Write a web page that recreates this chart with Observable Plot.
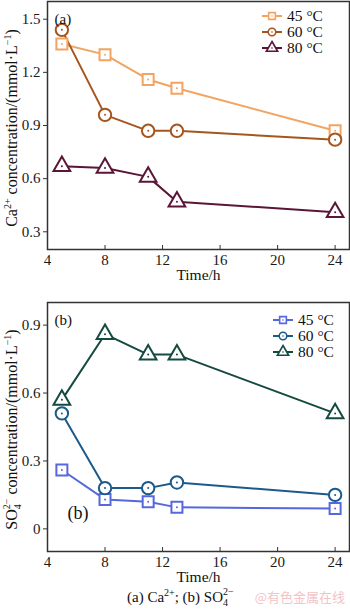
<!DOCTYPE html>
<html>
<head>
<meta charset="utf-8">
<script src="https://cdn.jsdelivr.net/npm/d3@7"></script>
<script src="https://cdn.jsdelivr.net/npm/@observablehq/plot@0.6"></script>
<style>
  html, body { margin: 0; padding: 0; background: #fff; }
  #wrap { position: relative; width: 350px; height: 609px; background: #fff; overflow: hidden; }
  #wrap > * { position: absolute; left: 0; }
  #wrap svg text { font-family: 'Liberation Serif', 'Times New Roman', serif; }
  #wrap svg text.cjk { font-family: 'Noto Sans CJK SC', sans-serif; }
</style>
</head>
<body>
<div id="wrap"></div>
<script>
// ---------- data ----------
const times = [5, 8, 11, 13, 24];
const seriesNames = ["45 °C", "60 °C", "80 °C"];
const ca45 = [1.36, 1.30, 1.16, 1.11, 0.87];
const ca60 = [1.44, 0.96, 0.87, 0.87, 0.82];
const ca80 = [0.67, 0.66, 0.61, 0.47, 0.41];
const so45 = [0.26, 0.13, 0.12, 0.095, 0.09];
const so60 = [0.51, 0.18, 0.18, 0.205, 0.15];
const so80 = [0.57, 0.86, 0.77, 0.77, 0.51];
const xTicks = [4, 8, 12, 16, 20, 24];
const caTicks = [0.3, 0.6, 0.9, 1.2, 1.5];
const soTicks = [0, 0.3, 0.6, 0.9];
const caColors = ["#F2A462", "#A5561E", "#5B1537"];
const soColors = ["#5668DD", "#1B5A8A", "#154A40"];
const symbols = ["square", "circle", "triangle"];

function rows(arrs) {
  return arrs.flatMap((a, i) => a.map((v, j) => ({series: seriesNames[i], t: times[j], v})));
}

const wrap = document.getElementById("wrap");

function panel({data, yDomain, yTicks, colors, top, height, marginTop, marginBottom, tag, tag2, legendX, legendY0, ylabel}) {
  const innerH = height - marginTop - marginBottom;
  const chart = Plot.plot({
    width: 350, height, marginLeft: 47, marginRight: 1, marginTop, marginBottom,
    style: "font-family: 'Liberation Serif', serif; font-size: 14px; color: #1a1a1a; background: transparent; overflow: visible;",
    x: {domain: [4, 25]},
    y: {domain: yDomain},
    color: {domain: seriesNames, range: colors},
    symbol: {domain: seriesNames, range: symbols},
    marks: [
      Plot.axisX(xTicks, {tickSize: 0, tickPadding: 5, label: null, fontSize: 15}),
      Plot.axisY(yTicks, {tickSize: 4, tickPadding: 3, label: null, fontSize: 15, stroke: "#333", tickFormat: d => String(d)}),
      Plot.tickX(xTicks, {x: d => d, insetTop: innerH - 4, stroke: "#333", strokeWidth: 1}),
      Plot.frame({stroke: "#333", strokeWidth: 1.5}),
      Plot.line(data, {x: "t", y: "v", z: "series", stroke: "series", strokeWidth: 2}),
      Plot.dot(data, {x: "t", y: "v", symbol: "series", stroke: "series", fill: "white", r: 6.2, strokeWidth: 2}),
      Plot.dot(data, {x: "t", y: "v", fill: "series", r: 1}),
      Plot.text([tag], {text: d => d, frameAnchor: "top-left", dx: 7, dy: 12, fontSize: 15, textAnchor: "start", fill: "#111"}),
      ...(tag2 ? [Plot.text([tag2], {text: d => d, frameAnchor: "bottom-left", dx: 20, dy: -33, fontSize: 18, textAnchor: "start", fill: "#111"})] : []),
      Plot.text(["Time/h"], {text: d => d, frameAnchor: "bottom", dy: 30, fontSize: 15.5, fill: "#111"})
    ]
  });
  chart.style.top = top + "px";
  wrap.appendChild(chart);

  const svg = d3.select(chart);
  // y-axis label
  const cy = marginTop + innerH / 2 + 3;
  const lab = svg.append("text")
    .attr("transform", `translate(17,${cy}) rotate(-90)`)
    .attr("text-anchor", "middle")
    .attr("font-size", 16).attr("fill", "#111");
  ylabel(lab);

  // legend
  const lg = svg.append("g");
  seriesNames.forEach((name, i) => {
    const y = legendY0 + i * 16;
    const g = lg.append("g").attr("transform", `translate(${legendX},${y})`);
    g.append("line").attr("x1", -10).attr("x2", 10).attr("y1", 0).attr("y2", 0)
      .attr("stroke", colors[i]).attr("stroke-width", 2);
    const sym = [d3.symbolSquare, d3.symbolCircle, d3.symbolTriangle][i];
    g.append("path").attr("d", d3.symbol(sym, i === 2 ? 55 : 45)())
      .attr("fill", "white").attr("stroke", colors[i]).attr("stroke-width", 1.6);
    g.append("circle").attr("r", 0.8).attr("fill", colors[i]);
    g.append("text").attr("x", 15).attr("y", 0).attr("dy", "0.35em")
      .attr("text-anchor", "start")
      .attr("font-size", 15.5).attr("fill", "#111").text(name);
  });
}

panel({
  data: rows([ca45, ca60, ca80]), yDomain: [0.2, 1.6], yTicks: caTicks, colors: caColors,
  top: 0, height: 290, marginTop: 1, marginBottom: 41, tag: "(a)", legendX: 272, legendY0: 16,
  ylabel: t => {
    t.append("tspan").text("Ca");
    t.append("tspan").attr("font-size", 10).attr("dy", -6).text("2+");
    t.append("tspan").attr("dy", 6).text(" concentration/(mmol·L");
    t.append("tspan").attr("font-size", 10).attr("dy", -6).text("−1");
    t.append("tspan").attr("dy", 6).text(")");
  }
});

panel({
  data: rows([so45, so60, so80]), yDomain: [-0.1, 1.0], yTicks: soTicks, colors: soColors,
  top: 300, height: 291, marginTop: 2, marginBottom: 40, tag: "(b)", tag2: "(b)", legendX: 283, legendY0: 20,
  ylabel: t => {
    t.append("tspan").text("SO");
    t.append("tspan").attr("font-size", 10).attr("dy", 4).text("4");
    t.append("tspan").attr("font-size", 10).attr("dx", -5).attr("dy", -11).text("2−");
    t.append("tspan").attr("dy", 7).text(" concentration/(mmol·L");
    t.append("tspan").attr("font-size", 10).attr("dy", -6).text("−1");
    t.append("tspan").attr("dy", 6).text(")");
  }
});

// caption + watermark
const cap = d3.select(wrap).append("svg")
  .attr("width", 350).attr("height", 24).style("top", "586px");
const ct = cap.append("text").attr("x", 127).attr("y", 16)
  .attr("font-size", 15).attr("fill", "#111");
ct.append("tspan").text("(a) Ca");
ct.append("tspan").attr("font-size", 10).attr("dy", -6).text("2+");
ct.append("tspan").attr("dy", 6).text("; (b)  SO");
ct.append("tspan").attr("font-size", 10).attr("dy", 4).text("4");
ct.append("tspan").attr("font-size", 10).attr("dx", -5).attr("dy", -11).text("2−");
cap.append("text").attr("class", "cjk").attr("x", 345).attr("y", 16).attr("text-anchor", "end")
  .attr("font-size", 13)
  .attr("fill", "#F3C3C8").text("@有色金属在线");
</script>
</body>
</html>
